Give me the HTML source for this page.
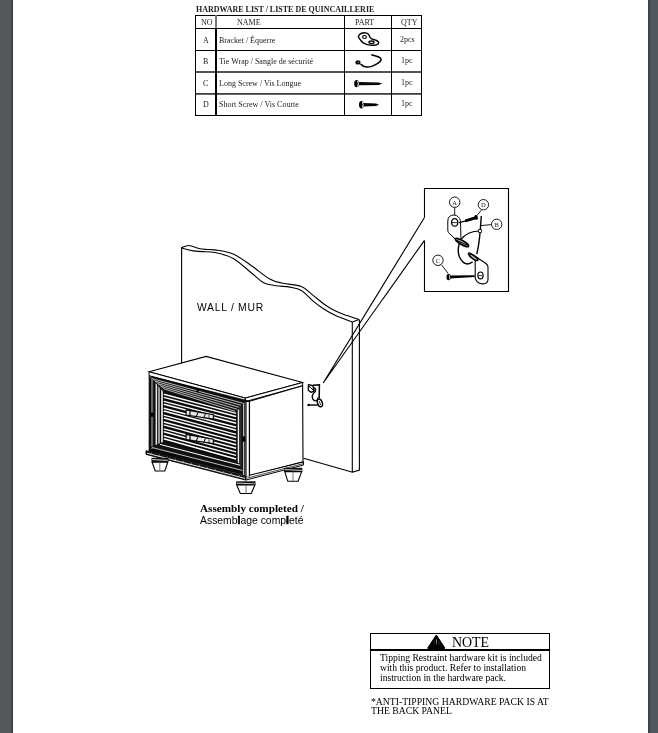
<!DOCTYPE html>
<html><head><meta charset="utf-8">
<style>
html,body{margin:0;padding:0;width:658px;height:733px;overflow:hidden;background:linear-gradient(to right,#52575b 0,#52575b 9px,#555a5e 9px,#555a5e 10px,#50555a 10px,#50555a 11px,#474b4f 11px,#474b4f 12px,#33373a 12px,#33373a 13px,#fff 13px,#fff 648px,#3a3e41 648px,#3a3e41 649px,#45494d 649px,#45494d 650px,#4d5155 650px,#4d5155 651px,#52575b 651px);}
#page{position:absolute;left:13px;top:0;width:635px;height:733px;background:#fff;}
.sh{position:absolute;top:0;height:733px;}
.t{position:absolute;will-change:transform;white-space:nowrap;font-family:"Liberation Serif",serif;color:#222;line-height:1;}
.s{font-family:"Liberation Sans",sans-serif;}
.h{position:absolute;background:#000;height:1px;}
.v{position:absolute;background:#000;width:1px;}
svg{position:absolute;left:0;top:0;}
</style></head><body>
<svg style="will-change:transform" width="658" height="733" viewBox="0 0 658 733"><path d="M181.60,247.60 C182.02,247.80 182.17,248.25 184.10,248.80 C186.03,249.35 190.17,250.43 193.20,250.90 C196.23,251.37 198.67,251.33 202.30,251.60 C205.93,251.87 209.85,251.37 215.00,252.50 C220.15,253.63 227.12,254.98 233.20,258.40 C239.28,261.82 246.43,268.95 251.50,273.00 C256.57,277.05 259.55,280.58 263.60,282.70 C267.65,284.82 271.40,284.97 275.80,285.70 C280.20,286.43 285.73,286.30 290.00,287.10 C294.27,287.90 297.60,288.22 301.40,290.50 C305.20,292.78 309.00,297.67 312.80,300.80 C316.60,303.93 320.40,306.83 324.20,309.30 C328.00,311.77 330.92,313.50 335.60,315.60 C340.28,317.70 349.52,320.85 352.30,321.90" fill="none" stroke="#000" stroke-width="1.1"/>
<path d="M181.60,247.60 C182.82,247.25 186.17,245.40 188.90,245.50 C191.63,245.60 195.25,247.55 198.00,248.20 C200.75,248.85 202.57,249.12 205.40,249.40 C208.23,249.68 210.37,249.12 215.00,249.90 C219.63,250.68 227.12,251.47 233.20,254.10 C239.28,256.73 245.42,261.55 251.50,265.70 C257.58,269.85 264.43,276.07 269.70,279.00 C274.97,281.93 277.82,282.05 283.10,283.30 C288.38,284.55 296.45,284.53 301.40,286.50 C306.35,288.47 309.00,292.15 312.80,295.10 C316.60,298.05 320.40,301.53 324.20,304.20 C328.00,306.87 331.80,309.20 335.60,311.10 C339.40,313.00 343.10,314.20 347.00,315.60 C350.90,317.00 357.00,318.85 359.00,319.50" fill="none" stroke="#000" stroke-width="1.1"/>
<path d="M352.3,321.9 L359,319.5" stroke="#000" stroke-width="1.1" fill="none"/>
<path d="M181.6,247.2 V363 M352.3,321.9 V472.3 L359.4,470 V319.5 M303.6,458.2 L352.6,472.3" stroke="#000" stroke-width="1.1" fill="none"/>
<path d="M323.2,383 L424.3,217.7 M323.2,383 L424.3,240.6" stroke="#000" stroke-width="1.1" fill="none"/>
<path d="M424.5,217.7 V188.5 H508.5 V291.5 H424.5 V240.6" stroke="#000" stroke-width="1.1" fill="none"/>
<path d="M149.10,371.80 L206.10,356.40 L302.60,382.50 L245.30,398.10 Z" fill="#fff" stroke="#000" stroke-width="1.10" />
<path d="M149.10,371.80 L245.30,398.10 L245.30,401.60 L149.10,375.80 Z" fill="#fff" stroke="#000" stroke-width="1.00" />
<path d="M245.30,398.10 L302.60,382.50 L302.60,385.80 L245.30,401.60 Z" fill="#fff" stroke="#000" stroke-width="1.00" />
<path d="M249.50,401.20 L302.60,385.80 L303.00,461.90 L249.50,475.90 Z" fill="#fff" stroke="#000" stroke-width="1.10" />
<path d="M245.80,476.20 L303.50,461.90 L303.60,465.00 L245.80,480.10 Z" fill="#fff" stroke="#000" stroke-width="1.00" />
<path d="M247.00,478.20 L303.50,463.60" stroke="#000" stroke-width="0.70" fill="none" />
<path d="M149.10,375.80 L249.50,401.20 L249.50,476.20 L149.10,451.00 Z" fill="#0a0a0a" stroke="#000" stroke-width="0.80" />
<rect x="151" y="377" width="2.2" height="72" fill="#666"/>
<rect x="155.6" y="379" width="1.3" height="68" fill="#fff"/>
<rect x="157.8" y="382" width="2.2" height="63" fill="#999"/>
<rect x="161.2" y="385" width="1.6" height="58" fill="#fff"/>
<rect x="150.3" y="412.6" width="3.4" height="4.2" fill="#000"/>
<rect x="237.7" y="409" width="1.5" height="54" fill="#eee"/>
<rect x="239.2" y="406" width="2.2" height="62" fill="#333"/>
<rect x="242.9" y="403" width="1.2" height="72" fill="#bbb"/>
<rect x="244.1" y="402" width="2.6" height="74" fill="#444"/>
<rect x="246.7" y="402" width="2.1" height="74" fill="#fff"/>
<rect x="242.3" y="436.4" width="3" height="5.3" fill="#000"/>
<path d="M149.60,376.30 L245.00,401.40 L237.00,411.20 L163.80,392.50 Z" fill="#111" stroke="none" stroke-width="0.00" />
<path d="M152.29,378.70 L243.13,403.32" stroke="#fff" stroke-width="0.85" fill="none" opacity="0.85"/>
<path d="M155.09,381.20 L241.18,405.32" stroke="#fff" stroke-width="0.85" fill="none" opacity="0.85"/>
<path d="M157.89,383.70 L239.23,407.32" stroke="#fff" stroke-width="0.85" fill="none" opacity="0.85"/>
<path d="M160.69,386.20 L237.28,409.32" stroke="#fff" stroke-width="0.85" fill="none" opacity="0.85"/>
<path d="M163.49,388.70 L235.33,411.32" stroke="#fff" stroke-width="0.85" fill="none" opacity="0.85"/>
<rect x="196.6" y="389.6" width="2.2" height="2.6" fill="#000"/>
<path d="M149.60,376.30 L163.80,388.50" stroke="#fff" stroke-width="0.90" fill="none" opacity="0.5"/>
<path d="M163.80,394.30 L236.10,413.40" stroke="#fff" stroke-width="1.45" fill="none" />
<path d="M163.80,397.40 L236.10,416.50" stroke="#fff" stroke-width="1.45" fill="none" />
<path d="M163.80,401.40 L236.10,420.10" stroke="#fff" stroke-width="1.45" fill="none" />
<path d="M163.80,404.20 L236.10,423.20" stroke="#fff" stroke-width="1.45" fill="none" />
<path d="M163.80,408.30 L236.10,427.30" stroke="#fff" stroke-width="1.45" fill="none" />
<path d="M163.80,411.00 L236.10,430.30" stroke="#fff" stroke-width="1.45" fill="none" />
<path d="M163.80,415.10 L236.10,434.40" stroke="#fff" stroke-width="1.45" fill="none" />
<path d="M163.80,418.00 L236.10,437.50" stroke="#fff" stroke-width="1.45" fill="none" />
<path d="M163.80,422.00 L236.10,441.10" stroke="#fff" stroke-width="1.45" fill="none" />
<path d="M163.80,424.90 L236.10,444.70" stroke="#fff" stroke-width="1.45" fill="none" />
<path d="M163.80,428.90 L236.10,448.30" stroke="#fff" stroke-width="1.45" fill="none" />
<path d="M163.80,431.80 L236.10,451.90" stroke="#fff" stroke-width="1.45" fill="none" />
<path d="M163.80,435.80 L236.10,455.40" stroke="#fff" stroke-width="1.45" fill="none" />
<path d="M163.80,438.70 L236.10,459.00" stroke="#fff" stroke-width="1.45" fill="none" />
<path d="M163.60,441.70 L237.00,461.00 L243.00,471.00 L149.60,447.60 Z" fill="#111" stroke="none" stroke-width="0.00" />
<path d="M160.00,444.40 L240.00,465.20" stroke="#fff" stroke-width="1.00" fill="none" />
<path d="M152.00,447.50 L242.50,470.50" stroke="#fff" stroke-width="0.90" fill="none" opacity="0.8"/>
<path d="M146.00,450.70 L245.80,476.20 L245.80,480.10 L146.00,454.40 Z" fill="#151515" stroke="#000" stroke-width="0.90" />
<path d="M147.00,453.20 L245.00,478.40" stroke="#fff" stroke-width="0.90" fill="none" />
<path d="M152.00,452.53 L150.00,454.43" stroke="#fff" stroke-width="0.70" fill="none" opacity="0.6"/>
<path d="M160.00,454.58 L158.00,456.48" stroke="#fff" stroke-width="0.70" fill="none" opacity="0.6"/>
<path d="M168.00,456.62 L166.00,458.52" stroke="#fff" stroke-width="0.70" fill="none" opacity="0.6"/>
<path d="M176.00,458.67 L174.00,460.57" stroke="#fff" stroke-width="0.70" fill="none" opacity="0.6"/>
<path d="M184.00,460.71 L182.00,462.61" stroke="#fff" stroke-width="0.70" fill="none" opacity="0.6"/>
<path d="M192.00,462.75 L190.00,464.65" stroke="#fff" stroke-width="0.70" fill="none" opacity="0.6"/>
<path d="M200.00,464.80 L198.00,466.70" stroke="#fff" stroke-width="0.70" fill="none" opacity="0.6"/>
<path d="M208.00,466.84 L206.00,468.74" stroke="#fff" stroke-width="0.70" fill="none" opacity="0.6"/>
<path d="M216.00,468.89 L214.00,470.79" stroke="#fff" stroke-width="0.70" fill="none" opacity="0.6"/>
<path d="M224.00,470.93 L222.00,472.83" stroke="#fff" stroke-width="0.70" fill="none" opacity="0.6"/>
<path d="M232.00,472.97 L230.00,474.87" stroke="#fff" stroke-width="0.70" fill="none" opacity="0.6"/>
<path d="M240.00,475.02 L238.00,476.92" stroke="#fff" stroke-width="0.70" fill="none" opacity="0.6"/>
<path d="M186.10,409.90 L213.40,414.80 L213.40,419.10 L186.10,415.10 Z" fill="#e8e8e8" stroke="#000" stroke-width="1.10" />
<path d="M190.00,411.00 L190.00,416.00" stroke="#000" stroke-width="1.20" fill="none" />
<path d="M198.00,412.50 L196.00,417.00" stroke="#000" stroke-width="1.00" fill="none" />
<path d="M205.50,413.80 L203.50,418.30" stroke="#000" stroke-width="1.00" fill="none" />
<path d="M209.00,414.80 L209.00,418.60" stroke="#000" stroke-width="0.70" fill="none" />
<path d="M186.10,434.40 L213.40,439.30 L213.40,443.60 L186.10,439.60 Z" fill="#e8e8e8" stroke="#000" stroke-width="1.10" />
<path d="M190.00,435.50 L190.00,440.50" stroke="#000" stroke-width="1.20" fill="none" />
<path d="M198.00,437.00 L196.00,441.50" stroke="#000" stroke-width="1.00" fill="none" />
<path d="M205.50,438.30 L203.50,442.80" stroke="#000" stroke-width="1.00" fill="none" />
<path d="M209.00,439.30 L209.00,443.10" stroke="#000" stroke-width="0.70" fill="none" />
<path d="M151.5,457.8 H168.4 V462.2 H151.5 Z" fill="#111"/>
<path d="M152.10,459.60 L167.80,460.40" stroke="#fff" stroke-width="0.80" fill="none" />
<path d="M152.10,462.20 L167.80,462.20 L164.80,471.00 L155.30,471.00 Z" fill="#fff" stroke="#000" stroke-width="1.10" />
<path d="M159.80,462.20 L159.80,471.00" stroke="#777" stroke-width="1.00" fill="none" />
<path d="M236.1,481.3 H255.5 V485.0 H236.1 Z" fill="#111"/>
<path d="M236.70,483.10 L254.90,483.90" stroke="#fff" stroke-width="0.80" fill="none" />
<path d="M236.70,485.00 L254.90,485.00 L251.30,493.50 L240.30,493.50 Z" fill="#fff" stroke="#000" stroke-width="1.10" />
<path d="M246.00,485.00 L246.00,493.50" stroke="#777" stroke-width="1.00" fill="none" />
<path d="M284.1,467.8 H302.3 V471.6 H284.1 Z" fill="#111"/>
<path d="M284.70,469.60 L301.70,470.40" stroke="#fff" stroke-width="0.80" fill="none" />
<path d="M284.70,471.60 L301.70,471.60 L298.10,481.30 L287.80,481.30 Z" fill="#fff" stroke="#000" stroke-width="1.10" />
<path d="M293.00,471.60 L293.00,481.30" stroke="#777" stroke-width="1.00" fill="none" />
<path d="M308.5,384.6 L313,385.8 L314,391.4 L311,392.2 L308.3,390.3 Z" fill="#fff" stroke="#000" stroke-width="1.4" stroke-linejoin="round"/>
<path d="M313,385.2 L319.4,384.8 L319.2,398.3" fill="none" stroke="#000" stroke-width="1.5"/>
<path d="M309,386 L313.5,390.5" fill="none" stroke="#000" stroke-width="1"/>
<path d="M314.2,387.6 Q316.6,389 314.9,392 Q311.3,394.8 312.6,398.6 Q314.2,401.6 316.6,400.6 Q318.4,399.2 318,397.4" fill="none" stroke="#000" stroke-width="1.4"/>
<ellipse cx="319.9" cy="402.9" rx="2.3" ry="4.0" transform="rotate(-20 319.9 402.9)" fill="#fff" stroke="#000" stroke-width="1.4"/>
<path d="M319.2,401 L320.6,405" stroke="#000" stroke-width="0.8"/>
<path d="M308.6,405 H318.2" stroke="#000" stroke-width="1.4"/>
<ellipse cx="308.6" cy="405" rx="1.2" ry="1.3" fill="#000"/>
<circle cx="454.7" cy="202.2" r="5.2" fill="#fff" stroke="#000" stroke-width="0.9"/>
<text x="454.7" y="204.5" font-family="Liberation Serif" font-size="6.5" text-anchor="middle" fill="#222">A</text>
<circle cx="483.4" cy="204.7" r="5.2" fill="#fff" stroke="#000" stroke-width="0.9"/>
<text x="483.4" y="207.0" font-family="Liberation Serif" font-size="6.5" text-anchor="middle" fill="#222">D</text>
<circle cx="496.7" cy="224.3" r="5.2" fill="#fff" stroke="#000" stroke-width="0.9"/>
<text x="496.7" y="226.6" font-family="Liberation Serif" font-size="6.5" text-anchor="middle" fill="#222">B</text>
<circle cx="438.0" cy="260.3" r="5.2" fill="#fff" stroke="#000" stroke-width="0.9"/>
<text x="438.0" y="262.6" font-family="Liberation Serif" font-size="6.5" text-anchor="middle" fill="#222">C</text>
<path d="M454.7,207.4 V215.5 M481.3,210.2 L476.5,216 M491.5,224.6 L480.7,225.6 M441.5,264.8 L448.1,273.3" stroke="#000" stroke-width="0.9" fill="none"/>
<path d="M455.5,239.3 L448.5,232.6 Q447.8,231.5 447.8,230 L447.8,221 Q448,215 454.1,215 Q459,215.5 460.5,220.9 L461,240" fill="#fff" stroke="#000" stroke-width="1"/>
<ellipse cx="454.7" cy="222.4" rx="3.1" ry="3.8" fill="#fff" stroke="#000" stroke-width="1.3"/>
<path d="M452,222.6 H457" stroke="#000" stroke-width="0.8"/>
<path d="M459,222.6 L466,220.8" stroke="#000" stroke-width="1.2"/>
<path d="M465,219.6 L475.5,216.2 L477,219 L465.5,222.2 Z" fill="#000"/>
<ellipse cx="476.2" cy="217.4" rx="1.6" ry="2.5" fill="#000" transform="rotate(-20 476.2 217.4)"/>
<path d="M481.3,216 L480.2,231 Q479,245 476.8,254.1" stroke="#000" stroke-width="1.4" fill="none"/>
<path d="M460.5,240 Q467,231 480.2,231" stroke="#000" stroke-width="1.1" fill="none"/>
<rect x="478.6" y="229.6" width="2.8" height="2.8" fill="#fff" stroke="#000" stroke-width="0.8"/>
<path d="M459.3,243.5 Q457,251 459.5,257 Q462.5,263.5 467.2,264 Q470.5,264 472.6,261.8" stroke="#000" stroke-width="1.4" fill="none"/>
<ellipse cx="462" cy="242.5" rx="7.5" ry="2" transform="rotate(30 462 242.5)" fill="#bbb" stroke="#000" stroke-width="1.7"/>
<path d="M457,240.5 L467,245" stroke="#000" stroke-width="1"/>
<path d="M468.3,254.1 Q468,252.5 470,253 L486,263.5 Q488,265 488,267 L488,279.7 Q487.5,284 482.1,283.9 Q476,283 475.2,277.6 L475.2,260.5 Z" fill="#fff" stroke="#000" stroke-width="1.1"/>
<ellipse cx="473.6" cy="257.3" rx="5" ry="1.6" transform="rotate(35 473.6 257.3)" fill="#bbb" stroke="#000" stroke-width="1.6"/>
<ellipse cx="480.5" cy="275.4" rx="2.6" ry="3.4" fill="#fff" stroke="#000" stroke-width="1.2"/>
<path d="M478.5,275.6 H482.5" stroke="#000" stroke-width="0.8"/>
<path d="M450,275.6 L474.7,275.2 L474.7,277.0 L450,278.6 Z" fill="#000"/>
<ellipse cx="448.6" cy="277" rx="2.1" ry="3.2" fill="#000"/>
<path d="M449.3,274.6 Q450.3,277 449.3,279.4" stroke="#fff" stroke-width="0.7" fill="none"/>
<path d="M358.70,35.60 C359.17,35.20 360.20,33.62 361.50,33.20 C362.80,32.78 365.28,32.85 366.50,33.10 C367.72,33.35 368.18,33.95 368.80,34.70 C369.42,35.45 369.63,36.85 370.20,37.60 C370.77,38.35 371.15,38.72 372.20,39.20 C373.25,39.68 375.43,39.98 376.50,40.50 C377.57,41.02 378.35,41.70 378.60,42.30 C378.85,42.90 378.72,43.62 378.00,44.10 C377.28,44.58 375.93,45.07 374.30,45.20 C372.67,45.33 369.95,45.23 368.20,44.90 C366.45,44.57 365.05,43.98 363.80,43.20 C362.55,42.42 361.57,41.18 360.70,40.20 C359.83,39.22 358.93,38.07 358.60,37.30 C358.27,36.53 358.68,35.88 358.70,35.60" fill="#fff" stroke="#000" stroke-width="1.45"/>
<ellipse cx="364.5" cy="37" rx="1.9" ry="1.5" fill="none" stroke="#000" stroke-width="1.2"/>
<ellipse cx="371.5" cy="42.3" rx="2.6" ry="1.3" fill="none" stroke="#000" stroke-width="1.3"/>
<path d="M371.30,54.70 C372.17,54.95 375.02,55.68 376.50,56.20 C377.98,56.72 379.45,57.13 380.20,57.80 C380.95,58.47 381.23,59.40 381.00,60.20 C380.77,61.00 379.72,61.85 378.80,62.60 C377.88,63.35 376.80,64.03 375.50,64.70 C374.20,65.37 372.42,66.22 371.00,66.60 C369.58,66.98 368.25,67.07 367.00,67.00 C365.75,66.93 364.58,66.70 363.50,66.20 C362.42,65.70 361.00,64.37 360.50,64.00" fill="none" stroke="#000" stroke-width="1.5"/>
<ellipse cx="358" cy="62.4" rx="2.6" ry="2.2" fill="#000"/>
<ellipse cx="358.3" cy="62.1" rx="1.1" ry="0.8" fill="#666"/>
<path d="M358.5,82.1 L378.5,82.4 L382.3,83.6 L378.5,84.9 L358.5,85.3 Z" fill="#000"/>
<path d="M361,83.6 H378" stroke="#555" stroke-width="0.4" stroke-dasharray="1 1.2"/>
<ellipse cx="356.6" cy="83.7" rx="2.4" ry="3.6" fill="#000"/>
<path d="M357.6,80.9 Q359.2,83.7 357.6,86.6" stroke="#fff" stroke-width="1.0" fill="none"/>
<path d="M363.2,103.1 L376,103.5 L379,104.7 L376,105.9 L363.2,106.4 Z" fill="#000"/>
<ellipse cx="361.4" cy="104.7" rx="2.4" ry="3.7" fill="#000"/>
<path d="M362.4,101.8 Q364,104.7 362.4,107.6" stroke="#fff" stroke-width="1.0" fill="none"/>
<rect x="195" y="71.2" width="227" height="1.6" fill="#2a2a2a"/>
<rect x="195" y="93.1" width="227" height="1.6" fill="#2a2a2a"/>
<path d="M436.3,635 L444.6,647.6 Q445.2,649.3 443.4,649.3 L429.2,649.3 Q427.4,649.3 428,647.6 Z" fill="#000" stroke="#000" stroke-width="1" stroke-linejoin="round"/>
<path d="M436.5,639.3 V644" stroke="#999" stroke-width="0.8"/>
<path d="M433.5,644.3 H435.2 M437.8,644.3 H439.5 M434.6,640.5 L433.8,643 M438.4,640.5 L439.2,643" stroke="#555" stroke-width="0.5"/></svg>
<!-- table -->
<div class="t" style="left:196px;top:6px;font-size:8px;font-weight:bold">HARDWARE LIST / LISTE DE QUINCAILLERIE</div>
<div class="h" style="left:195px;top:15px;width:227px"></div>
<div class="h" style="left:195px;top:28px;width:227px"></div>
<div class="h" style="left:195px;top:50px;width:227px"></div>
<div class="h" style="left:195px;top:115px;width:227px"></div>
<div class="v" style="left:195px;top:15px;height:101px"></div>
<div class="v" style="left:215px;top:15px;height:13px;width:2px;background:#777"></div>
<div class="v" style="left:215px;top:28px;height:88px;width:2px"></div>
<div class="v" style="left:344px;top:15px;height:101px"></div>
<div class="v" style="left:391px;top:15px;height:101px"></div>
<div class="v" style="left:421px;top:15px;height:101px"></div>

<div class="t" style="left:201px;top:19px;font-size:8px">NO</div>
<div class="t" style="left:237px;top:19px;font-size:8px">NAME</div>
<div class="t" style="left:355px;top:19px;font-size:8px">PART</div>
<div class="t" style="left:401px;top:19px;font-size:8px">QTY</div>

<div class="t" style="left:203px;top:37px;font-size:8px">A</div>
<div class="t" style="left:219px;top:37px;font-size:8px">Bracket / Équerre</div>
<div class="t" style="left:400.3px;top:36.2px;font-size:8px">2pcs</div>
<div class="t" style="left:203px;top:58px;font-size:8px">B</div>
<div class="t" style="left:219px;top:58px;font-size:8px">Tie Wrap / Sangle de sécurité</div>
<div class="t" style="left:401.2px;top:57.2px;font-size:8px">1pc</div>
<div class="t" style="left:203px;top:80px;font-size:8px">C</div>
<div class="t" style="left:219px;top:80px;font-size:8px">Long Screw / Vis Longue</div>
<div class="t" style="left:401.2px;top:79.2px;font-size:8px">1pc</div>
<div class="t" style="left:203px;top:101px;font-size:8px">D</div>
<div class="t" style="left:219px;top:101px;font-size:8px">Short Screw / Vis Courte</div>
<div class="t" style="left:401.2px;top:100.2px;font-size:8px">1pc</div>

<div class="t s" style="left:197px;top:303.3px;font-size:10.4px;letter-spacing:0.7px;color:#000">WALL / MUR</div>
<div class="t" style="left:200px;top:502.7px;font-size:11.2px;font-weight:bold;color:#000">Assembly completed /</div>
<div class="t s" style="left:200px;top:516.3px;font-size:10.4px;color:#000">Assemb<b style="-webkit-text-stroke:0.7px #000">l</b>age comp<b style="-webkit-text-stroke:0.7px #000">l</b>eté</div>

<!-- NOTE box -->
<div style="position:absolute;left:370px;top:633px;width:178px;height:54px;border:1px solid #000"></div>
<div class="h" style="left:370px;top:649px;width:180px;height:1.5px"></div>
<div class="t" style="left:452px;top:636.1px;font-size:13.9px;color:#000">NOTE</div>
<div class="t" style="left:380px;top:652.6px;font-size:9.6px;color:#000">Tipping Restraint hardware kit is included</div>
<div class="t" style="left:380px;top:662.8px;font-size:9.6px;color:#000">with this product. Refer to installation</div>
<div class="t" style="left:380px;top:673.2px;font-size:9.6px;color:#000">instruction in the hardware pack.</div>
<div class="t" style="left:371px;top:696.6px;font-size:9.7px;color:#000">*ANTI-TIPPING HARDWARE PACK IS AT</div>
<div class="t" style="left:371px;top:706.4px;font-size:9.7px;color:#000">THE BACK PANEL</div>
</body></html>
